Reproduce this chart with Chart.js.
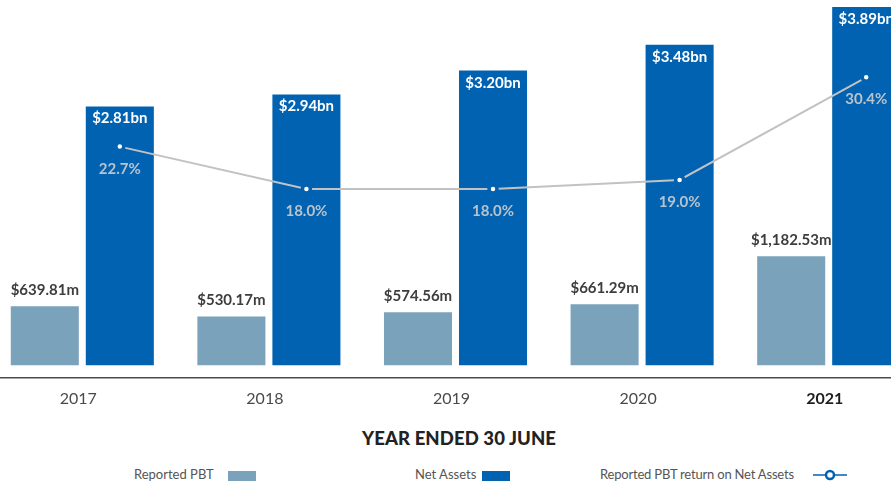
<!DOCTYPE html>
<html>
<head>
<meta charset="utf-8">
<script src="https://cdn.jsdelivr.net/npm/chart.js@4/dist/chart.umd.min.js"></script>
<style>
  html, body { margin: 0; padding: 0; background: #fff; }
  body { width: 891px; height: 483px; overflow: hidden; position: relative; font-family: Lato, "Open Sans", sans-serif; }
  #wrap { position: absolute; left: -11px; top: 0; width: 933px; height: 411px; }
  .t { position: absolute; white-space: nowrap; }
  #title { left: 0; width: 918px; top: 428px; text-align: center; font-weight: 900; font-size: 18.5px; line-height: 20px; color: #222; letter-spacing: 0.1px; }
  .lg { top: 466px; font-size: 13px; line-height: 16px; color: #555; }
  .sw { position: absolute; top: 471px; width: 28px; height: 10px; }
</style>
</head>
<body>
<div id="wrap"><canvas id="c" width="933" height="411"></canvas></div>
<div class="t" id="title">YEAR ENDED 30 JUNE</div>
<div class="t lg" style="left:134px">Reported PBT</div>
<div class="sw" style="left:228px;background:#7aa2bb"></div>
<div class="t lg" style="left:415px">Net Assets</div>
<div class="sw" style="left:482px;background:#0062b1"></div>
<div class="t lg" style="left:600px;letter-spacing:-0.2px">Reported PBT return on Net Assets</div>
<svg style="position:absolute;left:812px;top:468px" width="36" height="14">
  <line x1="1" y1="7" x2="35" y2="7" stroke="#0062b1" stroke-width="1.5"/>
  <circle cx="18" cy="7" r="4" fill="#fff" stroke="#0062b1" stroke-width="2.5"/>
</svg>
<script>
const years = ["2017", "2018", "2019", "2020", "2021"];
const reportedPBT = [639.81, 530.17, 574.56, 661.29, 1182.53];      // $m
const netAssets = [2810, 2940, 3200, 3480, 3890];                  // $m
const returnOnNetAssets = [22.7, 18.0, 18.0, 19.0, 30.4];          // %

const COL_PBT = "#7aa2bb";
const COL_NA = "#0062b1";
const CAT_PCT = 0.804;
const BAR_PCT = 0.907;

// The return line sits over the Net Assets bar of each year.
const alignLinePlugin = {
  id: "alignLine",
  afterDatasetsUpdate(chart) {
    const bars = chart.getDatasetMeta(1).data;
    chart.getDatasetMeta(2).data.forEach((p, i) => { p.x = bars[i].x; });
  }
};

const labelPlugin = {
  id: "valueLabels",
  afterDatasetsDraw(chart) {
    const ctx = chart.ctx;
    ctx.save();
    ctx.textAlign = "center";
    ctx.textBaseline = "alphabetic";
    ctx.font = "bold 15px Lato";
    ctx.fillStyle = "#3d3d3d";
    chart.getDatasetMeta(0).data.forEach((el, i) => {
      const v = reportedPBT[i].toLocaleString("en-US", { minimumFractionDigits: 2, maximumFractionDigits: 2 });
      ctx.fillText("$" + v + "m", el.x, el.y - 11);
    });
    ctx.fillStyle = "#ffffff";
    chart.getDatasetMeta(1).data.forEach((el, i) => {
      ctx.fillText("$" + (netAssets[i] / 1000).toFixed(2) + "bn", el.x, el.y + 17);
    });
    ctx.fillStyle = "#b9c3cc";
    chart.getDatasetMeta(2).data.forEach((el, i) => {
      ctx.fillText(returnOnNetAssets[i].toFixed(1) + "%", el.x, el.y + 27);
    });
    ctx.restore();
  }
};

new Chart(document.getElementById("c"), {
  type: "bar",
  data: {
    labels: years,
    datasets: [
      { label: "Reported PBT", data: reportedPBT, backgroundColor: COL_PBT, categoryPercentage: CAT_PCT, barPercentage: BAR_PCT, order: 2 },
      { label: "Net Assets", data: netAssets, backgroundColor: COL_NA, categoryPercentage: CAT_PCT, barPercentage: BAR_PCT, order: 2 },
      {
        type: "line", label: "Reported PBT return on Net Assets",
        data: returnOnNetAssets, yAxisID: "y2", order: 1,
        borderColor: "#c2c2c2", borderWidth: 2,
        pointRadius: 4, pointBorderWidth: 3.5, pointBackgroundColor: "#ffffff", pointBorderColor: COL_NA,
        pointHoverRadius: 4, tension: 0
      }
    ]
  },
  options: {
    responsive: false,
    animation: false,
    layout: { padding: 0, autoPadding: false },
    plugins: { legend: { display: false }, tooltip: { enabled: false } },
    scales: {
      x: {
        type: "category",
        offset: true,
        grid: { display: false },
        border: { display: true, color: "#4a4a4a", width: 1.5 },
        ticks: {
          padding: 3,
          labelOffset: -4,
          color: (c) => c.index === 4 ? "#1e1e1e" : "#4a4a4a",
          font: (c) => ({ family: "Lato", size: 16, weight: c.index === 4 ? "bold" : "normal" })
        }
      },
      y: { display: false, min: -136, max: 3966 },
      y2: { display: false, min: -3, max: 39 }
    }
  },
  plugins: [alignLinePlugin, labelPlugin]
});
</script>
</body>
</html>
